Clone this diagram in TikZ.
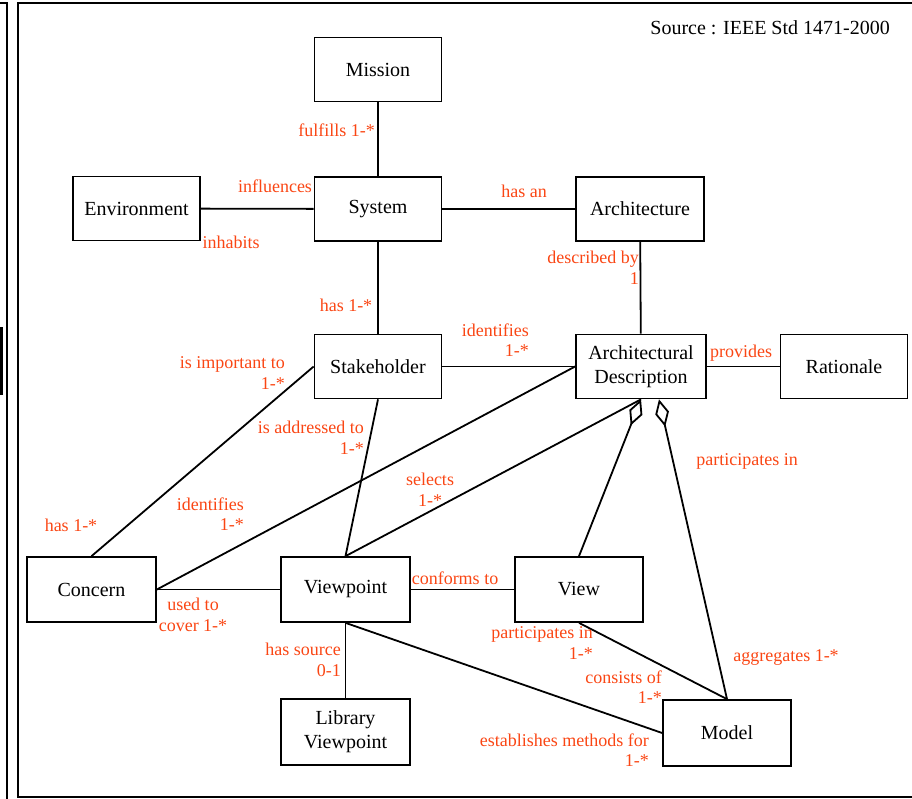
\documentclass[tikz,border=0pt]{standalone}
\usepackage{fontspec}
\setmainfont{Liberation Serif}
\newfontfamily\tnr{Liberation Serif}
\usetikzlibrary{arrows.meta,calc}
\definecolor{relc}{RGB}{250,70,20}
\begin{document}
\begin{tikzpicture}[x=1pt,y=-1pt,
  entity/.style={draw, line width=1.7pt, minimum width=127pt, minimum height=64pt,
    inner sep=0pt, align=center, font=\tnr\fontsize{20}{24}\selectfont},
  rel/.style={text=relc, inner sep=0pt, font=\tnr\fontsize{18}{20.5}\selectfont},
  link/.style={line width=1.8pt},
  agg/.style={line width=1.8pt, {Diamond[open,length=28pt,width=14pt]}-},
  frame/.style={line width=2pt}]
\useasboundingbox (0,0) rectangle (912,799);

% page frames
\draw[frame] (0,3) -- (7,3) -- (7,799);
\draw[frame] (912,3) -- (17.5,3) -- (17.5,797) -- (912,797);
\fill (0,327) rectangle (2.5,395);

% entities
\node[entity] (mission)   at (378,69.5)  {Mission};
\node[entity] (env)       at (136.5,208.5) {Environment};
\node[entity] (system)    at (378,209)   {System};
\node[entity, minimum width=128pt] (arch) at (640,209) {Architecture};
\node[entity] (stake)     at (378,366.5) {Stakeholder};
\node[entity, minimum width=130pt] (ad) at (641,366.5) {Architectural\\Description};
\node[entity] (rat)       at (844,366.5) {Rationale};
\node[entity, minimum width=129pt, minimum height=65pt] (concern) at (91.5,589.5) {Concern};
\node[entity, minimum width=129pt, minimum height=65pt] (viewpoint) at (345.5,589.5) {Viewpoint};
\node[entity, minimum width=128pt, minimum height=65pt] (view) at (579,589.5) {View};
\node[entity, minimum width=129pt, minimum height=66pt] (lib) at (345.5,732) {Library\\Viewpoint};
\node[entity, minimum width=128pt, minimum height=66pt] (model) at (727,733) {Model};

\coordinate (adB) at ($(ad.south)+(18,0)$);

% associations
\draw[link] (mission) -- (system);
\draw[link] (env) -- (system);
\draw[link] (system) -- (arch);
\draw[link] (system) -- (stake);
\draw[link] (arch) -- (ad);
\draw[link] (stake) -- (ad);
\draw[link] (ad) -- (rat);
\draw[link] (stake.west) -- (concern.north);
\draw[link] (stake.south) -- (viewpoint.north);
\draw[link] (concern.east) -- (ad.west);
\draw[link] (viewpoint.north) -- (ad.south);
\draw[link] (concern) -- (viewpoint);
\draw[link] (viewpoint) -- (view);
\draw[link] (viewpoint) -- (lib);
\draw[link] (viewpoint.south) -- (model.west);
\draw[link] (view.south) -- (model.north);
\draw[agg] (ad.south) -- (view.north);
\draw[agg] (adB) -- (model.north);

% role labels
\node[rel, anchor=east] at (375,130) {fulfills 1-*};
\node[rel] at (275,186) {influences};
\node[rel] at (231,242) {inhabits};
\node[rel] at (524,191) {has an};
\node[rel, align=right, anchor=east] at (639,268) {described by\\1};
\node[rel] at (346,305) {has 1-*};
\node[rel, align=right, anchor=east] at (529,340) {identifies\\1-*};
\node[rel] at (741,353) {provides};
\node[rel, align=right, anchor=east] at (285,373) {is important to\\1-*};
\node[rel, align=right, anchor=east] at (364,438) {is addressed to\\1-*};
\node[rel, align=center] at (430,490) {selects\\1-*};
\node[rel, align=right, anchor=east] at (244,514) {identifies\\1-*};
\node[rel] at (747,461) {participates in};
\node[rel] at (71,525) {has 1-*};
\node[rel, align=center] at (193,615) {used to\\cover 1-*};
\node[rel] at (455,578) {conforms to};
\node[rel, align=right, anchor=east] at (341,660) {has source\\0-1};
\node[rel, align=right, anchor=east] at (593,643) {participates in\\1-*};
\node[rel, align=right, anchor=east] at (662,687) {consists of\\1-*};
\node[rel] at (786,657) {aggregates 1-*};
\node[rel, align=right, anchor=east] at (649,750) {establishes methods for\\1-*};

\node[inner sep=0pt, anchor=east, font=\tnr\fontsize{20}{24}\selectfont] (src) at (890,28) {Source : IEEE Std 1471-2000};
\end{tikzpicture}
\end{document}
